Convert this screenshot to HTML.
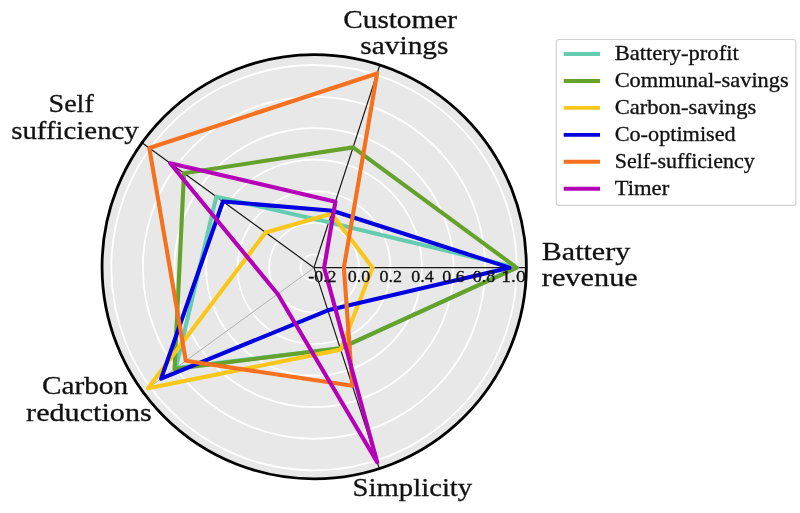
<!DOCTYPE html>
<html><head><meta charset="utf-8"><title>Radar chart</title>
<style>
html,body{margin:0;padding:0;background:#fff;}
body{width:800px;height:513px;overflow:hidden;font-family:"Liberation Serif",serif;}
svg{display:block;will-change:transform;opacity:0.999;}
text{font-family:"Liberation Serif",serif;fill:#111;stroke:#111;stroke-width:0.3px;}
</style></head><body>
<svg width="800" height="513" viewBox="0 0 800 513">
<rect x="0" y="0" width="800" height="513" fill="#ffffff"/>
<circle cx="314.2" cy="266.7" r="212.15" fill="#e8e8e8"/>
<g fill="none" stroke="#ffffff" stroke-width="1.8">
<circle cx="314.0" cy="267.65" r="13.30"/>
<circle cx="314.0" cy="267.65" r="44.86"/>
<circle cx="314.0" cy="267.65" r="76.42"/>
<circle cx="314.0" cy="267.65" r="107.98"/>
<circle cx="314.0" cy="267.65" r="139.54"/>
<circle cx="314.0" cy="267.65" r="171.10"/>
<circle cx="314.0" cy="267.65" r="202.66"/>
</g>
<line x1="314.0" y1="267.65" x2="526.15" y2="267.65" stroke="#161616" stroke-width="1.2"/>
<line x1="314.0" y1="267.65" x2="379.56" y2="65.88" stroke="#161616" stroke-width="1.2"/>
<line x1="314.0" y1="267.65" x2="142.37" y2="142.95" stroke="#161616" stroke-width="1.2"/>
<line x1="314.0" y1="267.65" x2="150.04" y2="386.77" stroke="#b2b2b2" stroke-width="1.0"/>
<line x1="314.0" y1="267.65" x2="379.56" y2="469.42" stroke="#161616" stroke-width="1.2"/>
<polygon points="516.66,267.65 328.74,222.28 216.30,196.67 175.83,368.03 340.20,348.28" fill="none" stroke="#66CCB0" stroke-width="4.1" stroke-linejoin="round"/>
<polygon points="516.66,267.65 353.07,147.40 184.00,173.20 174.56,368.96 340.20,348.28" fill="none" stroke="#64A22C" stroke-width="4.1" stroke-linejoin="round"/>
<polygon points="372.59,267.65 331.52,213.73 265.58,232.47 148.00,388.25 340.64,349.63" fill="none" stroke="#F8C71A" stroke-width="4.1" stroke-linejoin="round"/>
<polygon points="509.56,267.65 332.49,210.73 222.94,201.49 161.15,378.70 327.86,310.31" fill="none" stroke="#0000E0" stroke-width="4.1" stroke-linejoin="round"/>
<polygon points="343.87,267.65 377.06,73.56 149.28,147.97 185.79,360.80 352.39,385.80" fill="none" stroke="#F6711E" stroke-width="4.1" stroke-linejoin="round"/>
<polygon points="324.14,267.65 335.42,201.72 170.22,163.18 277.71,294.02 377.21,462.19" fill="none" stroke="#B400B8" stroke-width="4.1" stroke-linejoin="round"/>
<text x="322.40" y="281.8" font-size="16.8" text-anchor="middle" textLength="28.3" lengthAdjust="spacingAndGlyphs">-0.2</text>
<text x="358.90" y="281.8" font-size="16.8" text-anchor="middle" textLength="22.5" lengthAdjust="spacingAndGlyphs">0.0</text>
<text x="390.80" y="281.8" font-size="16.8" text-anchor="middle" textLength="22.5" lengthAdjust="spacingAndGlyphs">0.2</text>
<text x="422.50" y="281.8" font-size="16.8" text-anchor="middle" textLength="22.5" lengthAdjust="spacingAndGlyphs">0.4</text>
<text x="453.50" y="281.8" font-size="16.8" text-anchor="middle" textLength="22.5" lengthAdjust="spacingAndGlyphs">0.6</text>
<text x="484.05" y="281.8" font-size="16.8" text-anchor="middle" textLength="22.5" lengthAdjust="spacingAndGlyphs">0.8</text>
<text x="513.45" y="281.8" font-size="16.8" text-anchor="middle" textLength="24.5" lengthAdjust="spacingAndGlyphs">1.0</text>
<circle cx="314.2" cy="266.7" r="212.15" fill="none" stroke="#000" stroke-width="2.8"/>
<text x="343.3" y="27.6" font-size="26" text-anchor="start" textLength="113.6" lengthAdjust="spacingAndGlyphs">Customer</text>
<text x="360.3" y="54.4" font-size="26" text-anchor="start" textLength="88.2" lengthAdjust="spacingAndGlyphs">savings</text>
<text x="48.5" y="112" font-size="26" text-anchor="start" textLength="45.3" lengthAdjust="spacingAndGlyphs">Self</text>
<text x="11.2" y="138.5" font-size="26" text-anchor="start" textLength="127.6" lengthAdjust="spacingAndGlyphs">sufficiency</text>
<text x="41.9" y="394.0" font-size="26" text-anchor="start" textLength="86.3" lengthAdjust="spacingAndGlyphs">Carbon</text>
<text x="26.1" y="420.8" font-size="26" text-anchor="start" textLength="125.7" lengthAdjust="spacingAndGlyphs">reductions</text>
<text x="352.6" y="495.5" font-size="26" text-anchor="start" textLength="119.6" lengthAdjust="spacingAndGlyphs">Simplicity</text>
<text x="541.8" y="260" font-size="26" text-anchor="start" textLength="88.4" lengthAdjust="spacingAndGlyphs">Battery</text>
<text x="541.8" y="286.4" font-size="26" text-anchor="start" textLength="96.0" lengthAdjust="spacingAndGlyphs">revenue</text>
<rect x="556.3" y="39.5" width="239.6" height="165.9" rx="2.6" ry="2.6" fill="#ffffff" stroke="#d2d2d2" stroke-width="1.2"/>
<line x1="563.7" y1="54.00" x2="600" y2="54.00" stroke="#66CCB0" stroke-width="3.9"/>
<text x="614.7" y="59.75" font-size="20.3" textLength="124" lengthAdjust="spacingAndGlyphs">Battery-profit</text>
<line x1="563.7" y1="80.95" x2="600" y2="80.95" stroke="#64A22C" stroke-width="3.9"/>
<text x="614.7" y="86.80" font-size="20.3" textLength="174" lengthAdjust="spacingAndGlyphs">Communal-savings</text>
<line x1="563.7" y1="107.90" x2="600" y2="107.90" stroke="#F8C71A" stroke-width="3.9"/>
<text x="614.7" y="113.85" font-size="20.3" textLength="141.5" lengthAdjust="spacingAndGlyphs">Carbon-savings</text>
<line x1="563.7" y1="134.85" x2="600" y2="134.85" stroke="#0000E0" stroke-width="3.9"/>
<text x="614.7" y="140.90" font-size="20.3" textLength="121" lengthAdjust="spacingAndGlyphs">Co-optimised</text>
<line x1="563.7" y1="161.80" x2="600" y2="161.80" stroke="#F6711E" stroke-width="3.9"/>
<text x="614.7" y="167.95" font-size="20.3" textLength="140" lengthAdjust="spacingAndGlyphs">Self-sufficiency</text>
<line x1="563.7" y1="188.75" x2="600" y2="188.75" stroke="#B400B8" stroke-width="3.9"/>
<text x="614.7" y="195.00" font-size="20.3" textLength="54.5" lengthAdjust="spacingAndGlyphs">Timer</text>
</svg>
</body></html>
